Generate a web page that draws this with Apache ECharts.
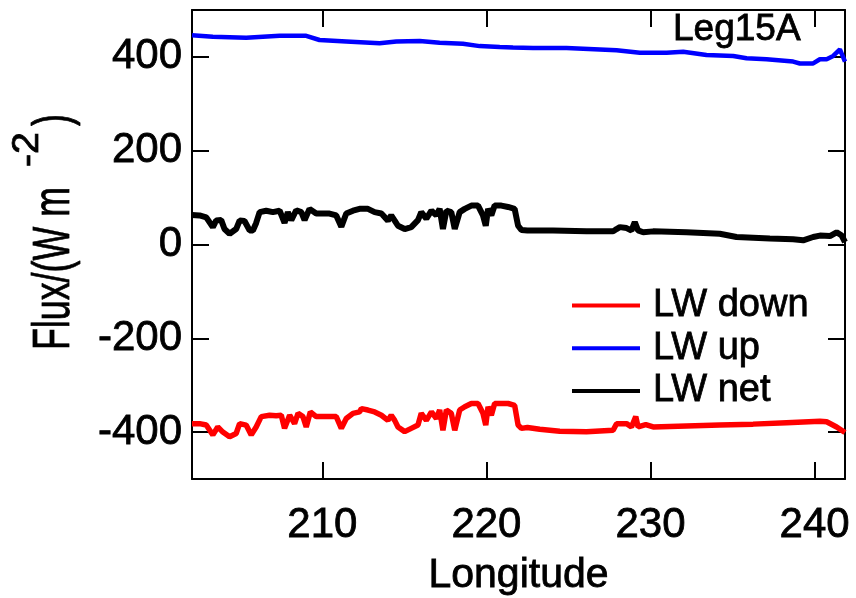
<!DOCTYPE html>
<html>
<head>
<meta charset="utf-8">
<script src="https://cdn.jsdelivr.net/npm/echarts@6/dist/echarts.min.js"></script>
<style>
  html, body { margin: 0; padding: 0; background: #fff; }
  #chart { width: 856px; height: 598px; }
</style>
</head>
<body>
<div id="chart"></div>
<script>
// Longwave radiative fluxes along the Leg15A track (W m^-2 vs longitude)

const xTicks = [210, 220, 230, 240];
const yTicks = [-400, -200, 0, 200, 400];

// LW up (surface emission)
const upLon = [202.06, 203.33, 205.36, 207.4, 209.02, 209.83, 211.46, 213.49, 214.51, 215.93,
  217.15, 218.57, 219.59, 220.81, 221.62, 222.84, 224.88, 226.91, 227.93, 229.35,
  230.98, 231.99, 233.41, 235.04, 235.85, 237.07, 238.69, 239.1, 239.91, 240.32,
  240.73, 241.13, 241.54, 241.85];
const upFlux = [446, 443, 441, 445, 445, 436, 433, 429, 433, 434,
  430, 428, 423, 421, 420, 419, 419, 416, 414, 409,
  409, 411, 404, 402, 397, 395, 390, 386, 386, 395,
  395, 402, 416, 390];

// LW net
const netLon = [202.06, 202.52, 202.93, 203.33, 203.53, 203.84, 204.04, 204.35, 204.75, 204.96,
  205.26, 205.57, 205.77, 205.97, 206.18, 206.58, 206.99, 207.4, 207.7, 207.9,
  208.11, 208.41, 208.72, 208.92, 209.22, 209.63, 210.03, 210.44, 210.85, 211.16,
  211.46, 211.87, 212.27, 212.38, 212.78, 213.19, 213.6, 214.0, 214.2, 214.41,
  214.61, 215.02, 215.42, 215.83, 216.03, 216.34, 216.65, 216.95, 217.15, 217.35,
  217.56, 217.86, 218.07, 218.37, 218.68, 219.08, 219.49, 219.79, 219.96, 220.1,
  220.3, 220.5, 220.91, 221.32, 221.72, 221.93, 222.13, 222.5, 224.06, 226.1,
  227.72, 227.93, 228.13, 228.54, 228.84, 229.04, 229.24, 229.55, 230.16, 232.19,
  234.22, 235.24, 237.27, 238.69, 239.3, 239.91, 240.32, 240.93, 241.34, 241.65,
  241.85];
const netFlux = [63, 62, 58, 37, 51, 52, 33, 23, 33, 51,
  50, 30, 30, 46, 69, 72, 69, 72, 46, 69,
  52, 73, 69, 52, 76, 66, 66, 66, 62, 38,
  66, 72, 76, 78, 76, 69, 66, 51, 62, 51,
  40, 33, 37, 52, 69, 55, 72, 62, 76, 33,
  72, 69, 33, 69, 76, 83, 83, 62, 40, 76,
  62, 83, 83, 80, 76, 40, 31, 30, 30, 28,
  28, 33, 37, 35, 30, 48, 30, 26, 28, 26,
  23, 16, 13, 11, 9, 16, 19, 18, 26, 19,
  5];

// LW down (sky emission, sign convention: downward negative)
const downLon = [202.06, 202.52, 202.93, 203.33, 203.63, 203.94, 204.35, 204.75, 204.96, 205.36,
  205.67, 205.97, 206.28, 206.79, 207.19, 207.5, 207.7, 208.01, 208.31, 208.52,
  208.82, 209.02, 209.27, 209.63, 210.03, 210.44, 210.85, 211.16, 211.46, 211.87,
  212.27, 212.38, 212.78, 213.19, 213.6, 214.0, 214.2, 214.41, 214.61, 215.02,
  215.42, 215.83, 216.03, 216.34, 216.65, 216.95, 217.15, 217.35, 217.56, 217.86,
  218.07, 218.37, 218.68, 219.08, 219.49, 219.79, 219.96, 220.1, 220.3, 220.5,
  220.91, 221.32, 221.72, 221.93, 222.13, 222.5, 223.25, 224.47, 226.1, 227.72,
  227.93, 228.54, 228.84, 229.1, 229.24, 229.71, 230.16, 232.19, 234.22, 236.25,
  238.29, 240.32, 240.73, 241.34, 241.85];
const downFlux = [-382, -382, -385, -406, -389, -400, -410, -403, -382, -385,
  -406, -389, -367, -364, -365, -364, -392, -364, -382, -360,
  -367, -389, -357, -367, -367, -367, -367, -392, -371, -360,
  -357, -350, -353, -357, -364, -375, -364, -375, -389, -399,
  -392, -385, -360, -375, -357, -371, -353, -396, -353, -360,
  -396, -353, -346, -339, -339, -360, -385, -346, -364, -339,
  -339, -339, -343, -385, -392, -390, -394, -398, -399, -396,
  -382, -382, -389, -367, -389, -384, -389, -387, -385, -383,
  -380, -377, -378, -389, -401];

const zip = (xs, ys) => xs.map((x, i) => [x, ys[i]]);

const FONT_NAME = 'Liberation Sans';
const FONT = '"Liberation Sans", Arial, sans-serif';
const axisLineStyle = { color: '#000', width: 2 };
// slight outline to give the labels a heavier stroke
const INK = { color: '#000', textBorderColor: '#000', textBorderWidth: 0.8 };

// Text width helper used to fit the rotated, condensed y-axis title pieces
const measureCtx = document.createElement('canvas').getContext('2d');
function textWidth(str, size) {
  measureCtx.font = size + 'px "' + FONT_NAME + '"';
  return measureCtx.measureText(str).width;
}

// Y-axis title: "Flux/(W m" + superscript "-2" + ")" drawn bottom-to-top
const TITLE_SIZE = 52;
const SUP_SIZE = 36;
const titleMain = 'Flux/(W m';
const titleSup = '-2';
const titleClose = ')';
const mainScale = 163 / textWidth(titleMain, TITLE_SIZE);
const supScale = 35 / textWidth(titleSup, SUP_SIZE);
const MID = 0.3465; // em-box middle above the alphabetic baseline
const mainBaseX = 73;
const supBaseX = 41;

function rotatedText(str, size, scale, baseX, y, align) {
  return {
    type: 'text',
    x: baseX - MID * size,
    y: y,
    rotation: Math.PI / 2,
    scaleX: scale,
    scaleY: 1,
    style: {
      text: str,
      fontFamily: FONT,
      fontSize: size,
      fill: '#000',
      stroke: '#000',
      lineWidth: 0.8,
      align: align,
      verticalAlign: 'middle'
    }
  };
}

const chart = echarts.init(document.getElementById('chart'), null, { renderer: 'canvas' });

chart.setOption({
  animation: false,
  backgroundColor: '#fff',
  textStyle: { fontFamily: FONT, color: '#000' },
  title: {
    text: 'Leg15A',
    left: 668,
    top: 6,
    textStyle: Object.assign({ fontFamily: FONT, fontSize: 37, fontWeight: 'normal' }, INK)
  },
  graphic: [
    rotatedText(titleMain, TITLE_SIZE, mainScale, mainBaseX, 350, 'left'),
    rotatedText(titleSup, SUP_SIZE, supScale, supBaseX, 167, 'left'),
    rotatedText(titleClose, TITLE_SIZE, mainScale, mainBaseX, 114, 'right')
  ],
  legend: {
    orient: 'vertical',
    left: 567,
    top: 281,
    icon: 'rect',
    itemWidth: 68,
    itemHeight: 4,
    itemGap: 4,
    textStyle: Object.assign({ fontFamily: FONT, fontSize: 38, lineHeight: 38, padding: [0, 0, 0, 8] }, INK),
    data: ['LW down', 'LW up', 'LW net']
  },
  grid: {
    left: 192, top: 10, width: 653, height: 469,
    containLabel: false,
    outerBoundsMode: 'none'
  },
  xAxis: [{
    type: 'value',
    position: 'bottom',
    min: 202.06,
    max: 241.85,
    name: 'Longitude',
    nameLocation: 'middle',
    nameGap: 76,
    nameTextStyle: Object.assign({ fontFamily: FONT, fontSize: 41 }, INK),
    axisLine: { show: true, onZero: false, lineStyle: axisLineStyle },
    axisTick: { show: true, inside: true, length: 17, lineStyle: axisLineStyle, customValues: xTicks },
    axisLabel: Object.assign({ show: true, margin: 25, fontFamily: FONT, fontSize: 42, customValues: xTicks }, INK),
    splitLine: { show: false }
  }, {
    type: 'value',
    position: 'top',
    min: 202.06,
    max: 241.85,
    axisLine: { show: true, onZero: false, lineStyle: axisLineStyle },
    axisTick: { show: true, inside: true, length: 17, lineStyle: axisLineStyle, customValues: xTicks },
    axisLabel: { show: false },
    splitLine: { show: false }
  }],
  yAxis: [{
    type: 'value',
    position: 'left',
    min: -500,
    max: 500,
    axisLine: { show: true, onZero: false, lineStyle: axisLineStyle },
    axisTick: { show: true, inside: true, length: 17, lineStyle: axisLineStyle, customValues: yTicks },
    axisLabel: Object.assign({ show: true, margin: 10, fontFamily: FONT, fontSize: 42, customValues: yTicks }, INK),
    splitLine: { show: false }
  }, {
    type: 'value',
    position: 'right',
    min: -500,
    max: 500,
    axisLine: { show: true, onZero: false, lineStyle: axisLineStyle },
    axisTick: { show: true, inside: true, length: 17, lineStyle: axisLineStyle, customValues: yTicks },
    axisLabel: { show: false },
    splitLine: { show: false }
  }],
  series: [{
    name: 'LW down',
    type: 'line',
    data: zip(downLon, downFlux),
    showSymbol: false,
    symbol: 'none',
    color: '#ff0000',
    lineStyle: { color: '#ff0000', width: 5.5 }
  }, {
    name: 'LW up',
    type: 'line',
    data: zip(upLon, upFlux),
    showSymbol: false,
    symbol: 'none',
    color: '#0000ff',
    lineStyle: { color: '#0000ff', width: 4.5 }
  }, {
    name: 'LW net',
    type: 'line',
    data: zip(netLon, netFlux),
    showSymbol: false,
    symbol: 'none',
    color: '#000000',
    lineStyle: { color: '#000000', width: 6 }
  }]
});
</script>
</body>
</html>
